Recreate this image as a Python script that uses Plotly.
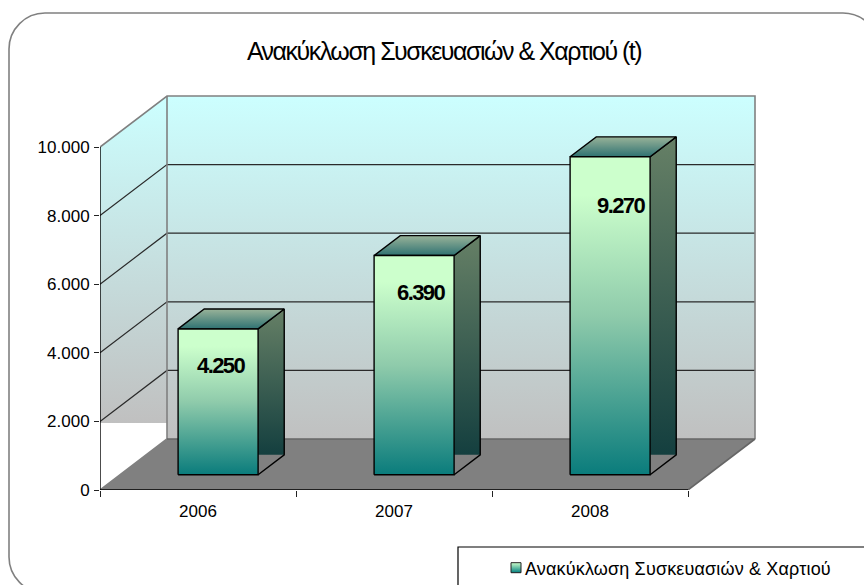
import plotly.graph_objects as go

# ---------- data ----------
years = ["2006", "2007", "2008"]
values = [4250, 6390, 9270]
y_ticks = [0, 2000, 4000, 6000, 8000, 10000]
series_name = "Ανακύκλωση Συσκευασιών & Χαρτιού"
title_text = "Ανακύκλωση Συσκευασιών & Χαρτιού (t)"

# ---------- layout geometry (pixels in an 864x585 page) ----------
W, H = 864, 585
X0, X1 = 100, 760      # x axis domain incl. depth and a small pad
Y0, Y1 = 490, 92       # y axis domain incl. depth and a small pad
PX_PER_CAT = 196
PX_PER_VAL = 343 / 10000
DEPTH_X = 67 / PX_PER_CAT
DEPTH_Y = 51 / PX_PER_VAL
BAR_W = 80 / PX_PER_CAT
D_FRONT, D_BACK = 0.30, 0.69
X_MAX = (X1 - X0) / PX_PER_CAT
Y_MAX = (Y0 - Y1) / PX_PER_VAL
Y_TOP = y_ticks[-1]
N = len(years)
WALL_CUT = (Y0 - 423) / PX_PER_VAL
label_dx = [2, 6, 10]
label_dy = [37, 37, 49]

# colour stops: 0 = bottom of the polygon, 1 = top
WALL = [[0, "#C0C0C0"], [1, "#CCFFFF"]]
FRONT = [[0, "#0A7C7C"], [0.5, "#8FCBAB"], [0.88, "#CCFFCC"], [1, "#CCFFCC"]]
SIDE = [[0, "#143F3F"], [1, "#668066"]]
TOP = [[0, "#2F7272"], [1, "#99B399"]]
TEXT = "#000000"
FONT = "Liberation Sans, Arial, sans-serif"


def proj(x, v, d=0.0):
    return x + d * DEPTH_X, v + d * DEPTH_Y


def poly(pts, scale=None, color=None, line=None, width=1, close=True):
    xs = [p[0] for p in pts] + ([pts[0][0]] if close else [])
    ys = [p[1] for p in pts] + ([pts[0][1]] if close else [])
    kw = dict(x=xs, y=ys, mode="lines", hoverinfo="skip", showlegend=False, cliponaxis=False,
              line=dict(color=line or "rgba(0,0,0,0)", width=width if line else 0))
    if scale:
        kw.update(fill="toself", fillgradient=dict(type="vertical", colorscale=scale))
    elif color:
        kw.update(fill="toself", fillcolor=color)
    return go.Scatter(**kw)


fig = go.Figure()

# walls and floor
fig.add_trace(poly([proj(0, Y_TOP, 1), proj(N, Y_TOP, 1), proj(N, 0, 1), proj(0, 0, 1)], scale=WALL))
fig.add_trace(poly([proj(0, Y_TOP), proj(0, Y_TOP, 1),
                    (DEPTH_X, WALL_CUT), (0, WALL_CUT)], scale=WALL))
fig.add_trace(poly([proj(0, 0), proj(0, 0, 1), proj(N, 0, 1), proj(N, 0)], color="#808080"))

# grid lines
for v in y_ticks[1:-1]:
    fig.add_trace(poly([proj(0, v), proj(0, v, 1), proj(N, v, 1)], line="#2A2A2A", width=1.2, close=False))

# wall border
fig.add_trace(poly([proj(0, Y_TOP), proj(0, Y_TOP, 1), proj(N, Y_TOP, 1), proj(N, 0, 1)],
                   line="#808080", width=1.6, close=False))
fig.add_trace(poly([proj(0, Y_TOP, 1), proj(0, 0, 1), proj(0, 0)], line="#808080", width=1.6, close=False))
fig.add_trace(poly([proj(0, 0, 1), proj(N, 0, 1), proj(N, 0)], line="#666666", width=1.6, close=False))

# bars
for i, v in enumerate(values):
    xa = i + 0.5 - BAR_W / 2
    xb = i + 0.5 + BAR_W / 2
    fa, ba = proj(xa, 0, D_FRONT), proj(xa, 0, D_BACK)
    fb, bb = proj(xb, 0, D_FRONT), proj(xb, 0, D_BACK)
    ft = proj(xb, v, D_FRONT)
    bt = proj(xb, v, D_BACK)
    ftl = proj(xa, v, D_FRONT)
    btl = proj(xa, v, D_BACK)
    # side face: fill stops at the level of the rear edge
    fig.add_trace(poly([ft, bt, bb, (fb[0], bb[1])], scale=SIDE))
    fig.add_trace(poly([fb, bb, bt, ft], line="#000000", width=1.4, close=False))
    fig.add_trace(poly([ftl, btl, bt, ft], scale=TOP, line="#000000", width=1.4))
    fig.add_trace(poly([fa, fb, ft, ftl], scale=FRONT, line="#000000", width=1.4))

# axis lines
fig.add_trace(poly([proj(0, Y_TOP), proj(0, 0), proj(N, 0)], line="#000000", width=1.4, close=False))

# legend entry
fig.add_trace(go.Scatter(x=[None], y=[None], mode="markers", name=series_name, hoverinfo="skip",
                         marker=dict(symbol="square", size=10, color="#CCFFCC",
                                     gradient=dict(type="vertical", color="#007F7F"),
                                     line=dict(color="#222222", width=1))))

# value labels
annotations = [
    dict(x=proj(i + 0.5, v, D_FRONT)[0], y=proj(i + 0.5, v, D_FRONT)[1], xref="x", yref="y",
         text=f"{v:,}".replace(",", "."), showarrow=False, xshift=label_dx[i], yshift=-label_dy[i],
         xanchor="center", yanchor="middle", font=dict(family=FONT, size=22, color="#000000", weight="bold"))
    for i, v in enumerate(values)
]


def px(x, y):
    return f"{x / W:.5f} {1 - y / H:.5f}"


L, T, R, B, r = 9, 13, 879, 593, 36
k = 0.45 * r
frame = (
    f"M {px(L + r, T)} L {px(R - r, T)} C {px(R - k, T)} {px(R, T + k)} {px(R, T + r)} "
    f"L {px(R, B - r)} C {px(R, B - k)} {px(R - k, B)} {px(R - r, B)} "
    f"L {px(L + r, B)} C {px(L + k, B)} {px(L, B - k)} {px(L, B - r)} "
    f"L {px(L, T + r)} C {px(L, T + k)} {px(L + k, T)} {px(L + r, T)} Z"
)
legend_box = f"M {px(458, 600)} L {px(458, 547)} L {px(880, 547)}"

fig.update_layout(
    width=W, height=H, autosize=False,
    margin=dict(l=0, r=0, t=0, b=0, autoexpand=False),
    paper_bgcolor="#FFFFFF", plot_bgcolor="rgba(0,0,0,0)",
    separators=",.",
    font=dict(family=FONT, color=TEXT, size=16),
    title=dict(text=title_text, x=444 / W, xanchor="center", y=1 - 51 / H, yanchor="middle",
               font=dict(family=FONT, size=25, color="#000000")),
    xaxis=dict(domain=[X0 / W, X1 / W], range=[0, X_MAX], showgrid=False, zeroline=False, showline=False,
               tickmode="array", tickvals=[i + 0.5 for i in range(N)], ticktext=years,
               ticks="", ticklen=0, ticklabelstandoff=9, tickfont=dict(family=FONT, size=17, color=TEXT),
               minor=dict(tickmode="array", tickvals=list(range(N + 1)), ticks="outside", ticklen=6,
                          tickcolor="#222222", tickwidth=1, showgrid=False)),
    yaxis=dict(domain=[1 - Y0 / H, 1 - Y1 / H], range=[0, Y_MAX], showgrid=False, zeroline=False, showline=False,
               tickmode="array", tickvals=y_ticks, ticktext=[f"{t:,}".replace(",", ".") for t in y_ticks],
               ticks="outside", ticklen=5, tickcolor="#222222", tickwidth=1, ticklabelstandoff=1,
               tickfont=dict(family=FONT, size=17, color=TEXT)),
    showlegend=True,
    legend=dict(x=485 / W, y=1 - 568 / H, xanchor="left", yanchor="middle", bgcolor="rgba(0,0,0,0)",
                borderwidth=0, font=dict(family=FONT, size=18, color=TEXT)),
    annotations=annotations,
    shapes=[
        dict(type="path", xref="paper", yref="paper", path=frame, line=dict(color="#808080", width=1.6),
             layer="below"),
        dict(type="path", xref="paper", yref="paper", path=legend_box, line=dict(color="#000000", width=1.2),
             layer="below"),
    ],
)

CSS = """
html,body{margin:0;padding:0;overflow:hidden;background:#fff}
.gtitle{letter-spacing:-1.5px}
.annotation-text{letter-spacing:-1.6px}
.legendtext{letter-spacing:0.16px}
.legendsymbols{transform:translateX(11px)}
"""
post = "var s=document.createElement('style');s.textContent=%r;document.head.appendChild(s);" % CSS.replace("\n", "")
fig.write_html("out.html", post_script=post, config={"displayModeBar": False})
